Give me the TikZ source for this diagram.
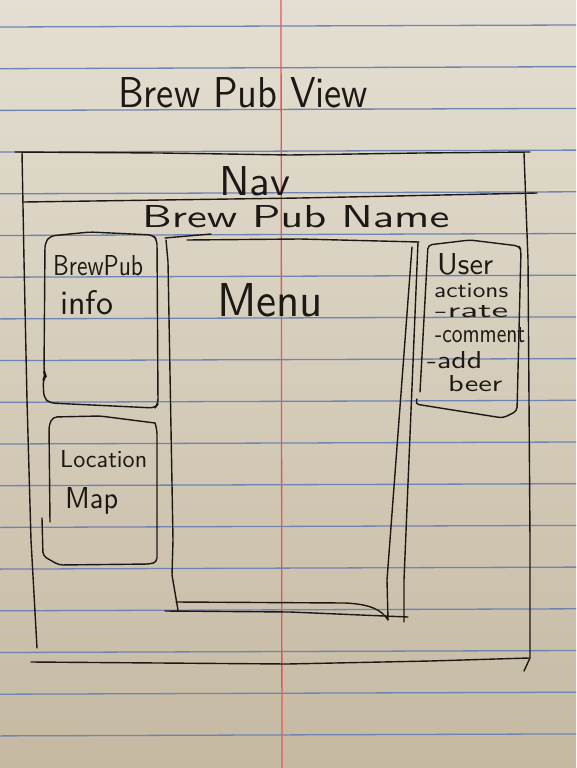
\documentclass[tikz,border=0pt]{standalone}
\usepackage{graphicx}
\definecolor{papertop}{RGB}{228,223,210}
\definecolor{paperbot}{RGB}{197,185,162}
\definecolor{ruleblue}{RGB}{112,132,178}
\definecolor{marginred}{RGB}{222,90,90}
\definecolor{ink}{RGB}{28,24,20}
% hand-lettered label squeezed to a given width and height (in pt)
\newcommand{\handtext}[3]{\resizebox{#1pt}{#2pt}{\sffamily #3}}

\begin{document}
\begin{tikzpicture}[x=1pt,y=-1pt,
  pen/.style={draw=ink,line width=1.4pt,line cap=round,line join=round},
  hand/.style={inner sep=0pt,text=ink,anchor=base west},
  ruled/.style={draw=ruleblue,line width=1.3pt},
  margin/.style={draw=marginred,line width=1.3pt}]
\useasboundingbox (0,0) rectangle (576,768);

% notebook paper
\shade[top color=papertop,bottom color=paperbot] (0,0) rectangle (576,768);
\foreach \k in {0,...,17}
  \draw[ruled] (0,{27+41.7*\k}) -- (576,{25+41.7*\k});
\draw[margin] (281,0) -- (282,768);

% page title
\node[hand] (title) at (118,107) {\handtext{250}{30}{Brew Pub View}};

% outer frame
\draw[pen] (15,152) -- (160,153) -- (290,155) -- (420,153) -- (530,152);
\draw[pen] (22,152) -- (24,260) -- (27,400) -- (31,540) -- (37,648);
\draw[pen] (31,662) -- (287,664) -- (430,661) -- (529,658);
\draw[pen] (524,153) -- (528,260) -- (530,540) -- (530,658) -- (524,671);

% nav bar
\node[hand] (nav) at (219,195) {\handtext{71}{29}{Nav}};
\draw[pen] (24,202) -- (300,198) -- (537,193);

% pub name header
\node[hand] (pubname) at (142,227) {\handtext{307}{22}{Brew Pub Name}};

% brew pub info panel
\draw[pen,rounded corners=5pt] (45,243) -- (44,372) -- (46,376) -- (43,380) -- (44,398)
  -- (50,403) -- (155,408) -- (158,404) -- (157,240) -- (153,235) -- (90,232) -- (50,236) -- cycle;
\node[hand] (infoA) at (53,275) {\handtext{90}{20}{BrewPub}};
\node[hand] (infoB) at (60,314) {\handtext{53}{24}{info}};

% location map panel
\draw[pen,rounded corners=4pt] (50,522) -- (49,425) -- (53,417) -- (100,416) -- (155,423);
\draw[pen,rounded corners=4pt] (155,423) -- (157,430) -- (157,562) -- (150,564) -- (59,565) -- (43,556) -- (42,518);
\node[hand] (mapA) at (60,467) {\handtext{87}{17}{Location}};
\node[hand] (mapB) at (65,508) {\handtext{53}{21}{Map}};

% menu panel
\draw[pen] (165,238) -- (211,234);
\draw[pen] (187,240) -- (300,239) -- (419,242);
\draw[pen] (166,240) -- (168,262) -- (173,540) -- (172,575) -- (178,610);
\draw[pen] (165,611) -- (290,612) -- (408,617);
\draw[pen] (176,602) -- (345,603) .. controls (370,604) and (382,610) .. (388,620);
\draw[pen] (412,247) -- (387,580) -- (388,620);
\draw[pen] (418,242) -- (404,580) -- (404,622);
\node[hand] (menu) at (217,316) {\handtext{106}{33}{Menu}};

% user actions panel
\draw[pen,rounded corners=4pt] (420,392) -- (428,245) -- (470,240) -- (519,246) -- (521,250)
  -- (519,330) -- (517,411) -- (503,418) -- (415,404) -- (417,399);
\node[hand] (actA) at (437,274) {\handtext{56}{21}{User}};
\node[hand] (actB) at (434,297) {\handtext{74}{14}{actions}};
\node[hand] (actC) at (435,317) {\handtext{73}{12}{-rate}};
\node[hand] (actD) at (435,342) {\handtext{90}{15}{-comment}};
\node[hand] (actE) at (427,368) {\handtext{55}{17}{-add}};
\node[hand] (actF) at (448,391) {\handtext{54}{16}{beer}};
\end{tikzpicture}
\end{document}
